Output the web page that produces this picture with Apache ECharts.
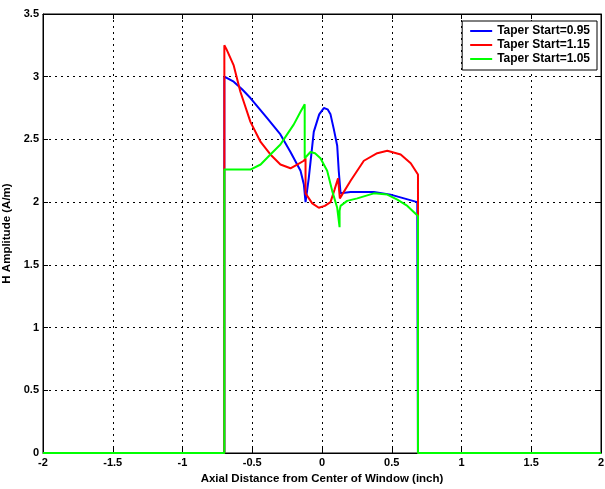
<!DOCTYPE html>
<html>
<head>
<meta charset="utf-8">
<script src="https://cdn.jsdelivr.net/npm/echarts@6/dist/echarts.min.js"></script>
<style>
  html, body { margin: 0; padding: 0; background: #fff; }
  #chart { width: 605px; height: 489px; }
</style>
</head>
<body>
<div id="chart"></div>
<script>
// axis ticks
const xTicks = [-2, -1.5, -1, -0.5, 0, 0.5, 1, 1.5, 2];
const yTicks = [0, 0.5, 1, 1.5, 2, 2.5, 3, 3.5];

const seriesNames = ["Taper Start=0.95", "Taper Start=1.15", "Taper Start=1.05"];

// [x, H] points
const blueData = [[-2,0],[-0.70,0],[-0.70,3.0],[-0.633,2.96],[-0.573,2.9],[-0.513,2.83],[-0.453,2.75],[-0.393,2.67],[-0.298,2.54],[-0.226,2.40],[-0.154,2.25],[-0.13,2.14],[-0.118,2.0],[-0.105,2.0],[-0.095,2.19],[-0.059,2.56],[-0.02,2.70],[0.013,2.75],[0.04,2.74],[0.061,2.70],[0.085,2.58],[0.109,2.45],[0.12,2.25],[0.133,2.07],[0.205,2.08],[0.372,2.08],[0.492,2.06],[0.588,2.03],[0.683,2.0],[0.688,2.0],[0.688,0],[2,0]];
const redData = [[-2,0],[-0.70,0],[-0.70,3.25],[-0.685,3.22],[-0.633,3.09],[-0.585,2.88],[-0.513,2.64],[-0.44,2.48],[-0.37,2.38],[-0.298,2.30],[-0.226,2.27],[-0.178,2.30],[-0.13,2.33],[-0.118,2.35],[-0.118,2.07],[-0.07,1.99],[-0.023,1.955],[0.02,1.97],[0.061,2.0],[0.09,2.1],[0.115,2.19],[0.128,2.03],[0.205,2.17],[0.30,2.33],[0.396,2.39],[0.468,2.41],[0.564,2.38],[0.636,2.31],[0.688,2.22],[0.688,0],[2,0]];
const greenData = [[-2,0],[-0.70,0],[-0.70,2.26],[-0.513,2.26],[-0.44,2.30],[-0.37,2.38],[-0.298,2.46],[-0.25,2.54],[-0.202,2.62],[-0.154,2.72],[-0.124,2.78],[-0.124,2.35],[-0.083,2.40],[-0.05,2.39],[-0.011,2.35],[0.037,2.25],[0.073,2.09],[0.109,1.955],[0.126,1.80],[0.126,1.93],[0.133,1.97],[0.18,2.01],[0.253,2.03],[0.372,2.07],[0.468,2.06],[0.54,2.02],[0.612,1.97],[0.688,1.89],[0.688,0],[2,0]];

const fontFam = "'Liberation Sans', Arial, sans-serif";
const labelStyle = { color: "#000", fontWeight: "bold", fontSize: 11, fontFamily: fontFam };
const nameStyle = { color: "#000", fontWeight: "bold", fontSize: 11.5, fontFamily: fontFam };

const chart = echarts.init(document.getElementById("chart"));
const option = {
  animation: false,
  backgroundColor: "#fff",
  grid: {
    left: 43, right: 4, top: 14, bottom: 36,
    containLabel: false,
    outerBoundsMode: "none",
    show: true, borderColor: "#000", borderWidth: 1
  },
  legend: {
    data: seriesNames,
    orient: "vertical",
    right: 8, top: 21,
    backgroundColor: "#fff",
    borderColor: "#000",
    borderWidth: 1,
    borderRadius: 0,
    padding: [4, 7, 5, 8],
    itemGap: 2,
    itemWidth: 22,
    itemHeight: 12,
    icon: "path://M0,5 L22,5 L22,7 L0,7 Z",
    textStyle: { color: "#000", fontWeight: "bold", fontSize: 12, fontFamily: fontFam }
  },
  xAxis: [{
    type: "value",
    min: -2, max: 2, interval: 0.5,
    name: "Axial Distance from Center of Window (inch)",
    nameLocation: "middle",
    nameGap: 12,
    nameTextStyle: nameStyle,
    axisLine: { show: true, onZero: false, lineStyle: { color: "#000", width: 1 } },
    axisTick: { show: true, inside: true, length: 5, lineStyle: { color: "#000" } },
    axisLabel: Object.assign({ margin: 4, formatter: v => xTicks.indexOf(v) >= 0 ? String(v) : "" }, labelStyle),
    splitLine: { show: true, lineStyle: { color: "#000", type: [2, 4], width: 1 } }
  }, {
    type: "value", position: "top",
    min: -2, max: 2, interval: 0.5,
    axisLine: { show: true, onZero: false, lineStyle: { color: "#000" } },
    axisTick: { show: true, inside: true, length: 5, lineStyle: { color: "#000" } },
    axisLabel: { show: false },
    splitLine: { show: false }
  }],
  yAxis: [{
    type: "value",
    min: 0, max: 3.5, interval: 0.5,
    name: "H Amplitude (A/m)",
    nameLocation: "middle",
    nameGap: 23,
    nameTextStyle: nameStyle,
    axisLine: { show: true, onZero: false, lineStyle: { color: "#000", width: 1 } },
    axisTick: { show: true, inside: true, length: 5, lineStyle: { color: "#000" } },
    axisLabel: Object.assign({ margin: 4, formatter: v => yTicks.indexOf(v) >= 0 ? String(v) : "" }, labelStyle),
    splitLine: { show: true, lineStyle: { color: "#000", type: [2, 4], width: 1 } }
  }, {
    type: "value", position: "right",
    min: 0, max: 3.5, interval: 0.5,
    axisLine: { show: true, onZero: false, lineStyle: { color: "#000" } },
    axisTick: { show: true, inside: true, length: 5, lineStyle: { color: "#000" } },
    axisLabel: { show: false },
    splitLine: { show: false }
  }],
  series: [
    { name: seriesNames[0], type: "line", data: blueData, symbol: "none", color: "#0000ff", lineStyle: { width: 2 } },
    { name: seriesNames[1], type: "line", data: redData, symbol: "none", color: "#ff0000", lineStyle: { width: 2 } },
    { name: seriesNames[2], type: "line", data: greenData, symbol: "none", color: "#00ff00", lineStyle: { width: 2 } }
  ]
};
chart.setOption(option);
window.addEventListener("resize", () => { chart.resize(); });
</script>
</body>
</html>
